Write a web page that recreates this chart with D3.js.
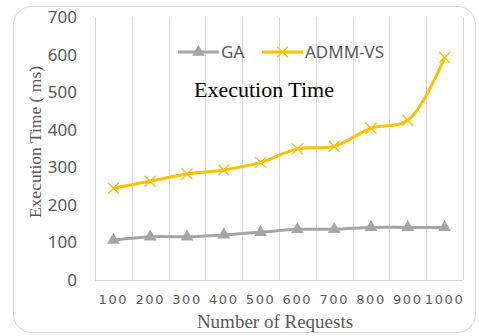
<!DOCTYPE html>
<html>
<head>
<meta charset="utf-8">
<script src="https://cdn.jsdelivr.net/npm/d3@7/dist/d3.min.js"></script>
<style>
  html, body { margin: 0; padding: 0; background: #fff; }
  svg { display: block; }
</style>
</head>
<body>
<svg id="chart" width="479" height="336"></svg>
<script>
// Number of requests on the x axis
const categories = ["100", "200", "300", "400", "500", "600", "700", "800", "900", "1000"];
// Execution time (ms) per algorithm
const gaValues = [106, 115, 115, 120, 127, 135, 135, 140, 140, 140];
const admmValues = [244, 263, 282, 293, 313, 349, 356, 404, 425, 592];
const yTicks = [0, 100, 200, 300, 400, 500, 600, 700];

const svg = d3.select("#chart");
const W = 479, H = 336;
const margin = { left: 95, right: 16, top: 17, bottom: 56 };
const plotW = W - margin.left - margin.right;
const plotH = H - margin.top - margin.bottom;

// Chart frame
svg.append("rect")
  .attr("x", 13.5).attr("y", 6.5)
  .attr("width", 462).attr("height", 326)
  .attr("rx", 18).attr("ry", 18)
  .attr("fill", "#fff").attr("stroke", "#d9d9d9").attr("stroke-width", 1);

const g = svg.append("g").attr("transform", `translate(${margin.left},${margin.top})`);

const x = d3.scaleBand().domain(categories).range([0, plotW]).paddingInner(0).paddingOuter(0);
const y = d3.scaleLinear().domain([0, 700]).range([plotH, 0]);
const cx = d => x(d) + x.bandwidth() / 2;

// Vertical gridlines at category boundaries
const bounds = categories.map(c => x(c)).concat([plotW]);
g.selectAll("line.grid").data(bounds).join("line")
  .attr("class", "grid")
  .attr("x1", d => Math.round(d) + 0.5).attr("x2", d => Math.round(d) + 0.5)
  .attr("y1", 0).attr("y2", plotH)
  .attr("stroke", "#d9d9d9").attr("stroke-width", 1);

// X axis baseline
g.append("line")
  .attr("x1", 0).attr("x2", plotW)
  .attr("y1", plotH + 0.5).attr("y2", plotH + 0.5)
  .attr("stroke", "#d9d9d9").attr("stroke-width", 1);

// Y axis tick labels
const yAxis = d3.axisLeft(y).tickValues(yTicks).tickSize(0).tickPadding(18).tickFormat(d3.format("d"));
const yAxisG = g.append("g").call(yAxis);
yAxisG.select(".domain").remove();
yAxisG.selectAll("text")
  .attr("font-family", "'Noto Sans', sans-serif")
  .attr("font-size", 17)
  .attr("fill", "#595959");

// X axis tick labels
const xAxis = d3.axisBottom(x).tickSize(0).tickPadding(15);
const xAxisG = g.append("g").attr("transform", `translate(0,${plotH})`).call(xAxis);
xAxisG.select(".domain").remove();
xAxisG.selectAll("text")
  .attr("font-family", "'DejaVu Sans', sans-serif")
  .attr("font-size", 13)
  .attr("letter-spacing", "1.6px")
  .attr("fill", "#595959");

// Series lines
const line = d3.line()
  .x((d, i) => cx(categories[i]))
  .y(d => y(d))
  .curve(d3.curveCatmullRom.alpha(0.5));

const gray = "#a5a5a5", orange = "#ffc000";

g.append("path").datum(gaValues)
  .attr("d", line).attr("fill", "none")
  .attr("stroke", gray).attr("stroke-width", 3).attr("stroke-linejoin", "round");

g.append("path").datum(admmValues)
  .attr("d", line).attr("fill", "none")
  .attr("stroke", orange).attr("stroke-width", 3).attr("stroke-linejoin", "round");

// Markers
const tri = d3.symbol().type(d3.symbolTriangle).size(70);
g.selectAll("path.ga").data(gaValues).join("path")
  .attr("class", "ga")
  .attr("d", tri)
  .attr("transform", (d, i) => `translate(${cx(categories[i])},${y(d)})`)
  .attr("fill", gray);

function crossPath(s) {
  return `M${-s},${-s}L${s},${s}M${-s},${s}L${s},${-s}`;
}
g.selectAll("path.admm").data(admmValues).join("path")
  .attr("class", "admm")
  .attr("d", crossPath(5.5))
  .attr("transform", (d, i) => `translate(${cx(categories[i])},${y(d)})`)
  .attr("fill", "none").attr("stroke", orange).attr("stroke-width", 1.3);

// Legend
const legend = svg.append("g").attr("transform", "translate(0,52)");
const legendItems = [
  { name: "GA", color: gray, x0: 178, kind: "tri" },
  { name: "ADMM-VS", color: orange, x0: 262, kind: "cross" }
];
legendItems.forEach(it => {
  legend.append("line")
    .attr("x1", it.x0).attr("x2", it.x0 + 41)
    .attr("y1", 0).attr("y2", 0)
    .attr("stroke", it.color).attr("stroke-width", 3);
  if (it.kind === "tri") {
    legend.append("path").attr("d", tri).attr("transform", `translate(${it.x0 + 20.5},0)`).attr("fill", it.color);
  } else {
    legend.append("path").attr("d", crossPath(5.5)).attr("transform", `translate(${it.x0 + 20.5},0)`)
      .attr("fill", "none").attr("stroke", it.color).attr("stroke-width", 1.3);
  }
  legend.append("text")
    .attr("x", it.x0 + 43).attr("y", 0).attr("dy", "0.35em")
    .attr("font-family", "'Noto Sans', sans-serif")
    .attr("font-size", 17)
    .attr("fill", "#595959")
    .text(it.name);
});

// Chart title
svg.append("text")
  .attr("x", 264).attr("y", 97)
  .attr("text-anchor", "middle")
  .attr("font-family", "'Liberation Serif', serif")
  .attr("font-size", 22)
  .attr("fill", "#000")
  .text("Execution Time");

// Axis titles
svg.append("text")
  .attr("transform", "translate(41,142) rotate(-90)")
  .attr("text-anchor", "middle")
  .attr("font-family", "'Liberation Serif', serif")
  .attr("font-size", 17.5)
  .attr("fill", "#595959")
  .text("Execution Time ( ms)");

svg.append("text")
  .attr("x", 275).attr("y", 328)
  .attr("text-anchor", "middle")
  .attr("font-family", "'Liberation Serif', serif")
  .attr("font-size", 19)
  .attr("fill", "#595959")
  .text("Number of Requests");
</script>
</body>
</html>
